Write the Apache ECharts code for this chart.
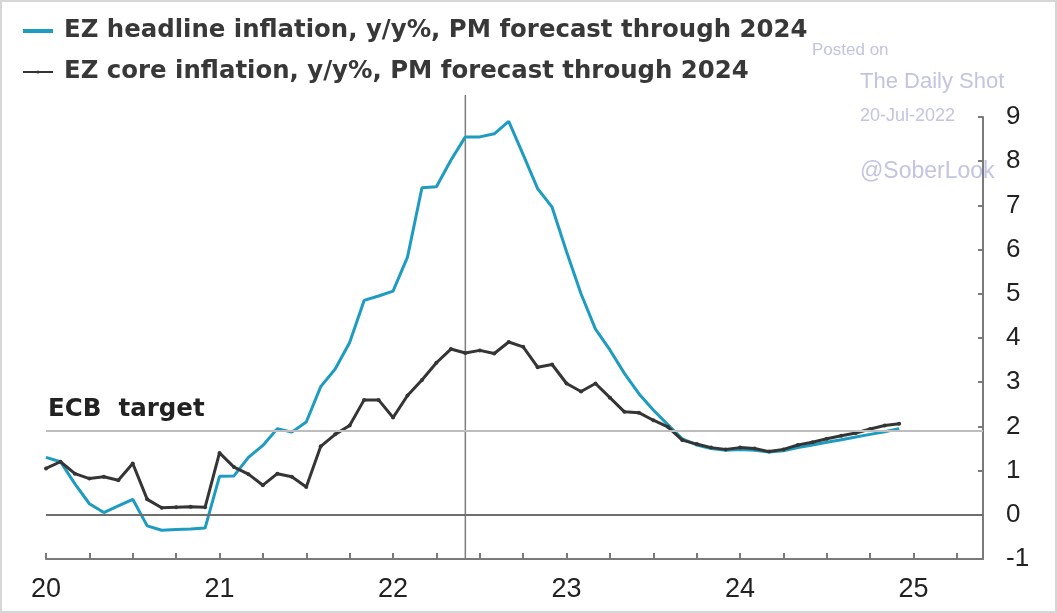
<!DOCTYPE html>
<html><head><meta charset="utf-8">
<script src="https://cdn.jsdelivr.net/npm/echarts@6/dist/echarts.min.js"></script>
<style>html,body{margin:0;padding:0;background:#fff}#c{width:1057px;height:613px}</style>
</head><body><div id="c"></div>
<script>
// Monthly observations / forecast, Jan 2020 .. Dec 2024
const years = [2020, 2021, 2022, 2023, 2024];
const months = years.flatMap(y => [1,2,3,4,5,6,7,8,9,10,11,12].map(m => y + '-' + String(m).padStart(2, '0')));

const headline = [
  1.30, 1.20, 0.70, 0.25, 0.05, 0.20, 0.35, -0.25, -0.35, -0.33, -0.32, -0.30,
  0.87, 0.88, 1.30, 1.57, 1.95, 1.87, 2.10, 2.90, 3.30, 3.90, 4.85, 4.95,
  5.06, 5.83, 7.40, 7.42, 8.02, 8.55, 8.55, 8.62, 8.90, 8.15, 7.38, 6.96,
  5.95, 5.00, 4.20, 3.73, 3.20, 2.74, 2.37, 2.04, 1.72, 1.58, 1.50, 1.46,
  1.48, 1.46, 1.42, 1.45, 1.52, 1.58, 1.64, 1.70, 1.76, 1.82, 1.88, 1.95
];
const core = [
  1.05, 1.20, 0.93, 0.82, 0.86, 0.78, 1.16, 0.35, 0.16, 0.17, 0.18, 0.17,
  1.40, 1.08, 0.92, 0.67, 0.93, 0.86, 0.63, 1.55, 1.82, 2.02, 2.60, 2.60,
  2.20, 2.70, 3.05, 3.44, 3.75, 3.66, 3.72, 3.65, 3.91, 3.80, 3.34, 3.40,
  2.97, 2.79, 2.97, 2.65, 2.33, 2.31, 2.14, 1.99, 1.69, 1.60, 1.52, 1.48,
  1.52, 1.50, 1.43, 1.48, 1.58, 1.64, 1.72, 1.79, 1.85, 1.94, 2.02, 2.06
];
const yTicks = [-1, 0, 1, 2, 3, 4, 5, 6, 7, 8, 9];
const ecbTarget = 1.9;
const markerMonth = '2022-06';
const seriesNames = ['EZ headline inflation, y/y%, PM forecast through 2024', 'EZ core inflation, y/y%, PM forecast through 2024'];

const toX = s => { const [y, m] = s.split('-').map(Number); return (y - 2000) + (m - 1) / 12; };

const TEAL = '#1d9bc0', DARK = '#353535';
const chart = echarts.init(document.getElementById('c'), null, {renderer: 'canvas'});
const wm = '#c3c3e2';
chart.setOption({
  animation: false,
  backgroundColor: '#fff',
  grid: {left: 46, right: 74, top: 117, bottom: 54, containLabel: false},
  legend: {
    orient: 'vertical', left: 17, top: 14, itemGap: 17,
    itemWidth: 30, itemHeight: 4,
    textStyle: {fontFamily: 'DejaVu Sans', fontWeight: 'bold', fontSize: 24.4, color: '#383838', padding: [0, 0, 0, 6]},
    data: [{name: seriesNames[0], icon: 'rect'}, {name: seriesNames[1]}]
  },
  xAxis: {
    type: 'value', min: 20, max: 25.4, interval: 0.25,
    axisLine: {show: true, onZero: false, lineStyle: {color: '#7a7a7a', width: 2}},
    axisTick: {show: true, inside: true, length: 6, lineStyle: {color: '#7a7a7a', width: 2}},
    axisLabel: {
      margin: 17, fontFamily: 'Liberation Sans', fontSize: 27, color: '#222',
      formatter: v => Math.abs(v - Math.round(v)) < 1e-6 ? String(Math.round(v)) : ''
    },
    splitLine: {show: false}
  },
  yAxis: {
    type: 'value', position: 'right', min: yTicks[0], max: yTicks[yTicks.length - 1], interval: 1,
    axisLine: {show: true, onZero: false, lineStyle: {color: '#7a7a7a', width: 2}},
    axisTick: {show: true, inside: true, length: 5, lineStyle: {color: '#7a7a7a', width: 2}},
    axisLabel: {margin: 23, fontFamily: 'Liberation Sans', fontSize: 26, color: '#222', align: 'left'},
    splitLine: {show: false}
  },
  graphic: [
    {type: 'rect', id: 'frame', silent: true, shape: {x: 1, y: 1, width: 1055, height: 611}, style: {fill: 'none', stroke: '#d6d6d6', lineWidth: 2}},
    {type: 'text', id: 'w1', silent: true, style: {text: 'Posted on', x: 812, y: 50, fill: wm, font: '17px "Liberation Sans"', verticalAlign: 'middle'}},
    {type: 'text', id: 'w2', silent: true, style: {text: 'The Daily Shot', x: 860, y: 82, fill: wm, font: '22px "Liberation Sans"', verticalAlign: 'middle'}},
    {type: 'text', id: 'w3', silent: true, style: {text: '20-Jul-2022', x: 860, y: 116, fill: wm, font: '18px "Liberation Sans"', verticalAlign: 'middle'}},
    {type: 'text', id: 'w4', silent: true, style: {text: '@SoberLook', x: 860, y: 172, fill: wm, font: '23px "Liberation Sans"', verticalAlign: 'middle'}}
  ],
  series: [
    {
      name: seriesNames[0], type: 'line', symbol: 'none', z: 3,
      data: months.map((m, i) => [toX(m), headline[i]]),
      lineStyle: {color: TEAL, width: 3}, itemStyle: {color: TEAL},
      markLine: {
        silent: true, symbol: ['none', 'none'], animation: false,
        label: {show: false},
        data: [
          {yAxis: 0, lineStyle: {color: '#6e6e6e', width: 2, type: 'solid'}},
          {yAxis: ecbTarget, lineStyle: {color: '#bdbdbd', width: 2, type: 'solid'},
           label: {show: true, position: 'insideStartTop', formatter: 'ECB  target', distance: [2, 9],
                   fontFamily: 'DejaVu Sans', fontWeight: 'bold', fontSize: 24.5, color: '#222'}}
        ]
      }
    },
    {
      name: seriesNames[1], type: 'line', symbol: 'circle', symbolSize: 4, showSymbol: true, z: 4,
      data: months.map((m, i) => [toX(m), core[i]]),
      lineStyle: {color: DARK, width: 3}, itemStyle: {color: DARK}
    }
  ]
});

const vx = chart.convertToPixel({xAxisIndex: 0}, toX(markerMonth));
const yTop = chart.convertToPixel({yAxisIndex: 0}, 9.5);
const yBot = chart.convertToPixel({yAxisIndex: 0}, yTicks[0]);
chart.setOption({graphic: [{type: 'line', id: 'vline', silent: true, z: 1,
  shape: {x1: vx, y1: yTop, x2: vx, y2: yBot}, style: {stroke: '#7d7d7d', lineWidth: 1.5}}]});
</script></body></html>
